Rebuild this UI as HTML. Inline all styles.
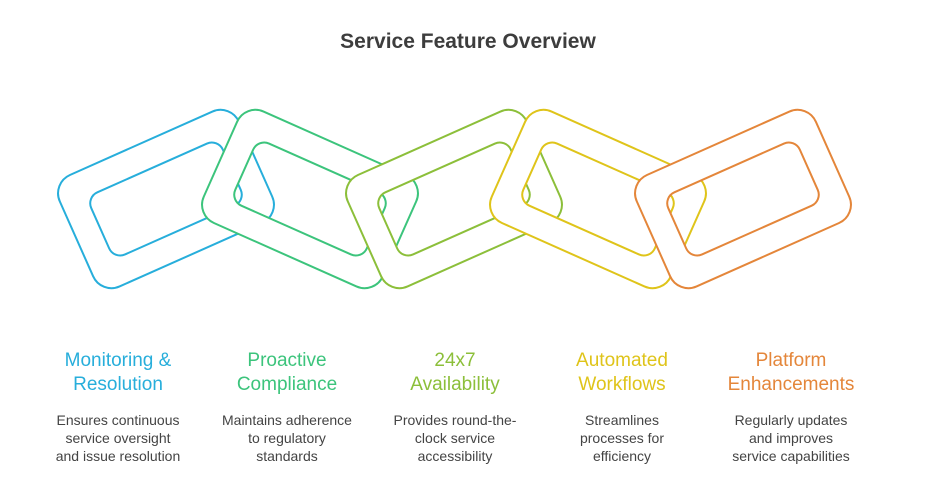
<!DOCTYPE html>
<html><head><style>
body{margin:0;width:936px;height:479px;background:#fff;font-family:"Liberation Sans",sans-serif;position:relative;overflow:hidden}
.t{position:absolute;top:30px;left:0;width:936px;text-align:center;font-size:21px;font-weight:bold;color:#3d3d3d}
.c{position:absolute;width:170px;text-align:center;top:349px}
.h{font-size:19px;line-height:24px}
.d{font-size:14px;line-height:18px;color:#444;margin-top:14px}
</style></head><body>
<div class="t">Service Feature Overview</div>
<svg width="936" height="479" style="position:absolute;left:0;top:0" fill="none" stroke-width="2">
<defs><path id="L" fill="#fff" fill-rule="evenodd" d="M-78,-61h156a20,20 0 0 1 20,20v82a20,20 0 0 1 -20,20h-156a20,20 0 0 1 -20,-20v-82a20,20 0 0 1 20,-20z M-60,-34h120a12,12 0 0 1 12,12v44a12,12 0 0 1 -12,12h-120a12,12 0 0 1 -12,-12v-44a12,12 0 0 1 12,-12z"/></defs>
<use href="#L" transform="translate(166,199) rotate(-24)" stroke="#27aedb"/>
<use href="#L" transform="translate(310,199) rotate(24)" stroke="#3cc47c"/>
<use href="#L" transform="translate(454,199) rotate(-24)" stroke="#8cbf3a"/>
<use href="#L" transform="translate(598,199) rotate(24)" stroke="#dfc41a"/>
<use href="#L" transform="translate(743,199) rotate(-24)" stroke="#e4863a"/>
</svg>
<div class="c" style="left:33px"><div class="h" style="color:#27aedb">Monitoring &amp;<br>Resolution</div><div class="d">Ensures continuous<br>service oversight<br>and issue resolution</div></div>
<div class="c" style="left:202px"><div class="h" style="color:#3cc47c">Proactive<br>Compliance</div><div class="d">Maintains adherence<br>to regulatory<br>standards</div></div>
<div class="c" style="left:370px"><div class="h" style="color:#8cbf3a">24x7<br>Availability</div><div class="d">Provides round-the-<br>clock service<br>accessibility</div></div>
<div class="c" style="left:537px"><div class="h" style="color:#dfc41a">Automated<br>Workflows</div><div class="d">Streamlines<br>processes for<br>efficiency</div></div>
<div class="c" style="left:706px"><div class="h" style="color:#e4863a">Platform<br>Enhancements</div><div class="d">Regularly updates<br>and improves<br>service capabilities</div></div>
</body></html>
